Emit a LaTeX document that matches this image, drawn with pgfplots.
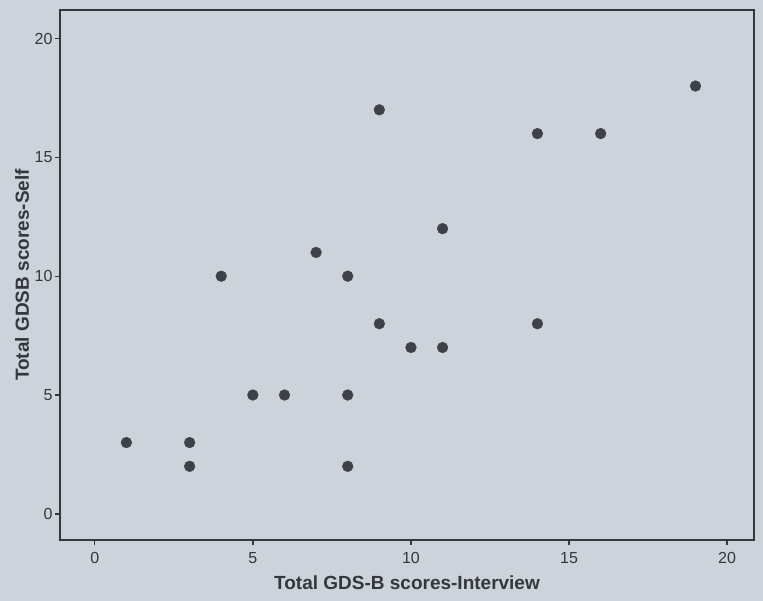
\documentclass[border=0pt]{standalone}
\usepackage{pgfplots}
\pgfplotsset{compat=1.18}
\usepackage{fontspec}
\setmainfont{Liberation Sans}
\definecolor{bg}{RGB}{205,211,219}
\definecolor{ink}{RGB}{52,55,60}
\definecolor{dot}{RGB}{62,66,72}
\begin{document}
\begin{tikzpicture}
\fill[bg] (-60pt,-61pt) rectangle (703pt,540pt);
\begin{axis}[
  scale only axis,
  width=694pt, height=530pt,
  xmin=-1.1, xmax=20.85, ymin=-1.1, ymax=21.2,
  xtick={0,5,10,15,20}, ytick={0,5,10,15,20},
  xtick pos=left, ytick pos=left,
  tick align=outside, major tick length=5pt,
  axis line style={ink, line width=1.3pt},
  every tick/.style={ink, line width=1.3pt},
  tick label style={font=\fontsize{16}{18}\selectfont, text=ink},
  /pgf/number format/assume math mode=true,
  xticklabel style={yshift=-4pt},
  yticklabel style={xshift=1pt},
  label style={font=\fontsize{19}{22}\selectfont\bfseries, text=ink},
  xlabel={Total GDS-B scores-Interview},
  ylabel={Total GDSB scores-Self},
  xlabel style={at={(axis description cs:0.5,-0.0811)}, anchor=center},
  ylabel style={at={(axis description cs:-0.0548,0.5)}, anchor=center},
]
\addplot[only marks, mark=*, mark size=5.4pt, mark options={fill=dot, draw=dot}] coordinates {
(1,3) (3,3) (3,2) (4,10) (5,5) (6,5) (7,11) (8,10) (8,5) (8,2)
(9,17) (9,8) (10,7) (11,7) (11,12) (14,16) (14,8) (16,16) (19,18)
};
\end{axis}
\end{tikzpicture}
\end{document}
